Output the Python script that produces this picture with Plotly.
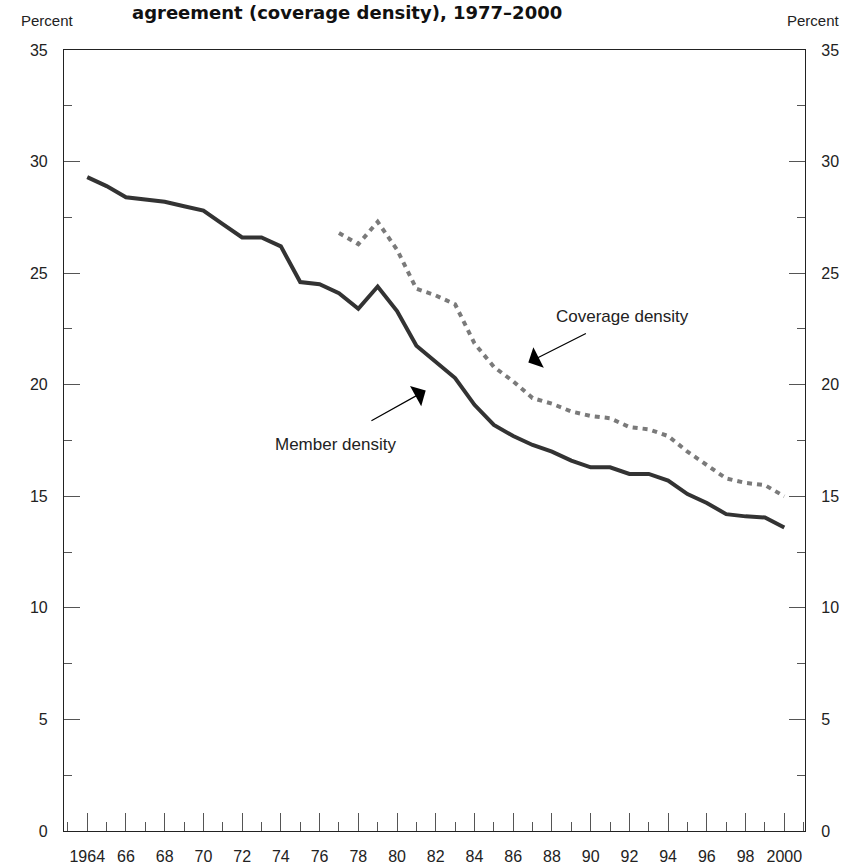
import plotly.graph_objects as go

# Data
member_years = list(range(1964, 2001))
member_density = [29.3, 28.9, 28.4, 28.3, 28.2, 28.0, 27.8, 27.2, 26.6, 26.6,
                  26.2, 24.6, 24.5, 24.1, 23.4, 24.4, 23.3, 21.75, 21.0, 20.3,
                  19.1, 18.2, 17.7, 17.3, 17.0, 16.6, 16.3, 16.3, 16.0, 16.0,
                  15.7, 15.1, 14.7, 14.2, 14.1, 14.05, 13.6]

coverage_years = list(range(1977, 2001))
coverage_density = [26.8, 26.3, 27.3, 26.05, 24.3, 24.0, 23.6, 21.85, 20.8, 20.15,
                    19.4, 19.15, 18.8, 18.6, 18.5, 18.1, 18.0, 17.7, 17.0, 16.4,
                    15.8, 15.6, 15.5, 15.0]

x_tickvals = list(range(1964, 2001, 2))
x_ticktext = ["1964", "66", "68", "70", "72", "74", "76", "78", "80", "82",
              "84", "86", "88", "90", "92", "94", "96", "98", "2000"]
y_tickvals = [0, 5, 10, 15, 20, 25, 30, 35]
y_ticktext = [str(v) for v in y_tickvals]

FONT = "Liberation Sans, Arial, sans-serif"

fig = go.Figure()
fig.add_trace(go.Scatter(x=member_years, y=member_density, mode="lines",
                         line=dict(color="#333333", width=4),
                         showlegend=False, hoverinfo="skip"))
fig.add_trace(go.Scatter(x=coverage_years, y=coverage_density, mode="lines",
                         line=dict(color="#7a7a7a", width=4, dash="5px,5px"),
                         showlegend=False, hoverinfo="skip", yaxis="y2"))

axis_common = dict(showgrid=False, zeroline=False, ticks="inside", automargin=False,
                   linecolor="#222222", linewidth=1.2, tickcolor="#555555",
                   tickfont=dict(family=FONT, size=16, color="#222222"))

fig.update_layout(
    width=849, height=866,
    margin=dict(l=64, r=44, t=50, b=35),
    plot_bgcolor="white", paper_bgcolor="white",
    xaxis=dict(range=[1962.8, 2001.07], tickvals=x_tickvals, ticktext=x_ticktext,
               ticklen=18, tickwidth=1.2, showline=True, mirror=True,
               ticklabelstandoff=11,
               minor=dict(ticks="inside", ticklen=9, dtick=1, tick0=1965,
                          tickcolor="#555555", tickwidth=1.2),
               **axis_common),
    yaxis=dict(range=[0, 35], tickvals=y_tickvals, ticktext=y_ticktext,
               ticklen=16, tickwidth=1.2, showline=True, ticklabelstandoff=12,
               minor=dict(ticks="inside", ticklen=8, dtick=2.5, tick0=0,
                          tickcolor="#555555", tickwidth=1.2),
               **axis_common),
    yaxis2=dict(range=[0, 35], tickvals=y_tickvals, ticktext=y_ticktext,
                overlaying="y", side="right", ticklen=16, tickwidth=1.2, showline=True,
                ticklabelstandoff=12,
                minor=dict(ticks="inside", ticklen=8, dtick=2.5, tick0=0,
                           tickcolor="#555555", tickwidth=1.2),
                **axis_common),
)

annotations = [
    dict(text="<b>agreement (coverage density), 1977–2000</b>", xref="paper", yref="paper",
         x=0.382, y=1.0485, xanchor="center", yanchor="middle", showarrow=False,
         font=dict(family="DejaVu Sans, sans-serif", size=18, color="#111111")),
    dict(text="Percent", xref="paper", yref="paper", x=-0.022, y=1.038,
         xanchor="center", yanchor="middle", showarrow=False,
         font=dict(family=FONT, size=15, color="#222222")),
    dict(text="Percent", xref="paper", yref="paper", x=1.0, y=1.038,
         xanchor="left", yanchor="middle", showarrow=False, xshift=-20,
         font=dict(family=FONT, size=15, color="#222222")),
    dict(text="Member density", x=1976.81, y=17.3, xref="x", yref="y",
         showarrow=False, font=dict(family=FONT, size=17, color="#222222")),
    dict(text="Coverage density", x=1991.66, y=23.05, xref="x", yref="y",
         showarrow=False, font=dict(family=FONT, size=17, color="#222222")),
    dict(text="", x=1981.48, y=19.74, ax=1978.6, ay=18.35, xref="x", yref="y",
         axref="x", ayref="y", showarrow=True, arrowhead=1, arrowsize=3.2,
         arrowwidth=1.2, arrowcolor="#000000"),
    dict(text="", x=1986.78, y=20.99, ax=1989.83, ay=22.33, xref="x", yref="y",
         axref="x", ayref="y", showarrow=True, arrowhead=1, arrowsize=3.2,
         arrowwidth=1.2, arrowcolor="#000000"),
]
fig.update_layout(annotations=annotations)

fig.write_html("out.html", config={"displayModeBar": False},
               post_script="document.body.style.margin='0';document.body.style.overflow='hidden';")
